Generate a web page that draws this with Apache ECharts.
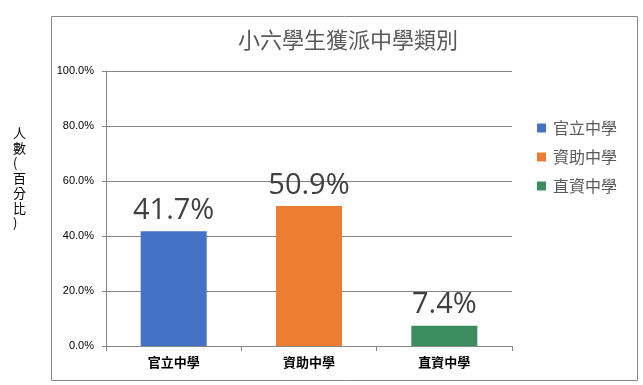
<!DOCTYPE html>
<html><head><meta charset="utf-8">
<script src="https://cdn.jsdelivr.net/npm/echarts@6/dist/echarts.min.js"></script>
<style>html,body{margin:0;padding:0;background:#fff}#c{width:643px;height:385px}</style>
</head><body><div id="c"></div>
<script>
const titleText = '小六學生獲派中學類別';
const categories = ['官立中學', '資助中學', '直資中學'];
const values = [41.7, 50.9, 7.4];
const colors = ['#4472C4', '#ED7D31', '#3B8C5F'];
const yTicks = [0, 20, 40, 60, 80, 100];
const yAxisName = ['人', '數', '(', '百', '分', '比', ')'];

const chart = echarts.init(document.getElementById('c'), null, {renderer: 'canvas'});
const series = categories.map((name, i) => ({
  name: name,
  type: 'bar',
  stack: 'all',
  barWidth: 66,
  itemStyle: {color: colors[i]},
  data: categories.map((c, j) => j === i ? values[i] : '-'),
  label: {
    show: true, position: 'top', distance: 6,
    formatter: p => p.value.toFixed(1) + '%',
    fontSize: 29, color: '#404040', fontFamily: 'Open Sans, Noto Sans, sans-serif'
  }
}));

chart.setOption({
  animation: false,
  color: colors,
  title: {
    text: titleText, left: 343, top: 24, textAlign: 'center',
    textStyle: {fontSize: 22, fontWeight: 'normal', color: '#595959', fontFamily: 'Noto Sans CJK TC'}
  },
  legend: {
    orient: 'vertical', left: 532, top: 115, itemGap: 13,
    itemWidth: 9, itemHeight: 9, icon: 'rect',
    data: categories,
    textStyle: {fontSize: 16, color: '#595959', fontFamily: 'Noto Sans CJK TC', padding: [0, 0, 0, 2]}
  },
  grid: {left: 106, right: 643 - 512, top: 71, bottom: 385 - 346},
  xAxis: {
    type: 'category', data: categories,
    axisLine: {lineStyle: {color: '#868686'}},
    axisTick: {show: true, length: 5, lineStyle: {color: '#868686'}},
    axisLabel: {fontSize: 13, fontWeight: 'bold', color: '#000', margin: 10, fontFamily: 'Noto Sans CJK TC'}
  },
  yAxis: {
    type: 'value', min: yTicks[0], max: yTicks[yTicks.length - 1], interval: 20,
    axisLine: {show: true, lineStyle: {color: '#868686'}},
    axisTick: {show: true, length: 4, lineStyle: {color: '#868686'}},
    splitLine: {lineStyle: {color: '#868686'}},
    axisLabel: {formatter: v => v.toFixed(1) + '%', fontSize: 11, color: '#000', margin: 12, fontFamily: 'Liberation Sans, sans-serif'}
  },
  graphic: [
    {type: 'rect', left: 51, top: 16, z: -10, shape: {width: 586, height: 364}, style: {fill: '#fff', stroke: '#898989', lineWidth: 1}},
    {type: 'text', left: 13, top: 126, style: {text: yAxisName.join('\n'), fontSize: 13, lineHeight: 15, fill: '#000', align: 'center', fontFamily: 'Noto Sans CJK TC'}}
  ],
  series: series
});
</script></body></html>
